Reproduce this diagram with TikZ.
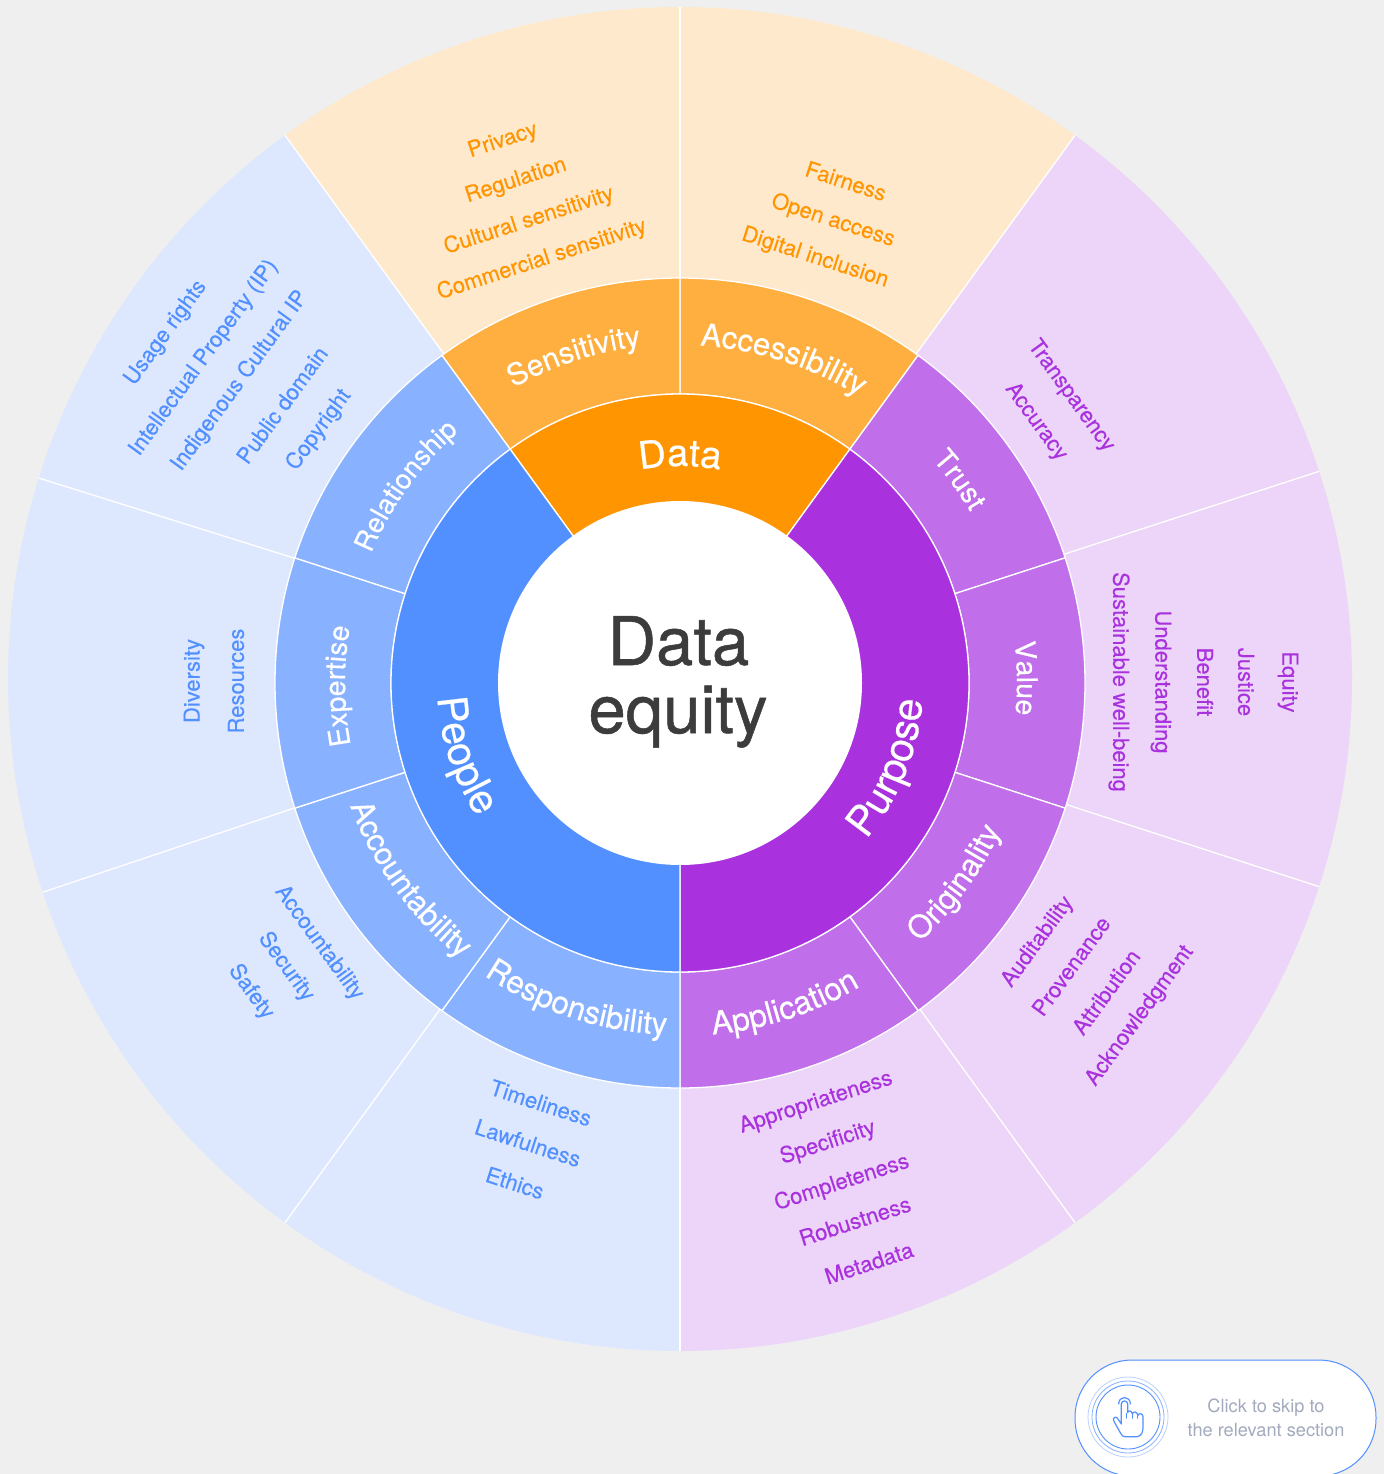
\documentclass[tikz,border=0pt]{standalone}
\usepackage{fontspec}
\setmainfont{TeX Gyre Heros}
\newfontfamily\semifont{TeX Gyre Heros}[FakeBold=0.35]
\newfontfamily\leaffont{TeX Gyre Heros}[FakeBold=0.25]
\newfontfamily\titlefont{TeX Gyre Heros}[FakeBold=0.8]
\usetikzlibrary{decorations.text}
\definecolor{bgc}{HTML}{EFEFEF}
\definecolor{oA}{HTML}{FF9500}\definecolor{oB}{HTML}{FFAF40}\definecolor{oC}{HTML}{FFE9CC}
\definecolor{bA}{HTML}{5290FF}\definecolor{bB}{HTML}{88B1FF}\definecolor{bC}{HTML}{DDE8FE}
\definecolor{pA}{HTML}{A932DE}\definecolor{pB}{HTML}{C06EEA}\definecolor{pC}{HTML}{ECD5F8}
\definecolor{ink}{HTML}{3C3C3C}\definecolor{hint}{HTML}{A3AABD}
\tikzset{
  sep/.style={draw=white,line width=1.3pt},
  leaf/.style={font=\leaffont\fontsize{22}{22}\selectfont,inner sep=0pt,anchor=center},
  oleaf/.style={leaf,text=oA},
  bleaf/.style={leaf,text=bA},
  pleaf/.style={leaf,text=pA},
  titletext/.style={text=ink,inner sep=0pt,anchor=base,font=\titlefont\fontsize{67}{67}\selectfont},
}
\newcommand\ringsector[5]{%
  \path[sep,fill=#5] (#3:#1) arc[start angle=#3,end angle=#4,radius=#1] -- (#4:#2) arc[start angle=#4,end angle=#3,radius=#2] -- cycle;}
\newcommand\outersector[3]{%
  \path[fill=#3] (#1:672) arc[start angle=#1,end angle=#2,radius=672] -- (0,0) -- cycle;}
% arc label: radius, start, end, size, text
\newcommand\arclabel[5]{%
  \path[decorate,decoration={text along path,text align=center,text color=white,
    text={|\semifont\fontsize{#4}{#4}\selectfont|#5}}] (#2:#1) arc[start angle=#2,end angle=#3,radius=#1];}
\begin{document}
\begin{tikzpicture}[x=1pt,y=1pt]
\useasboundingbox (0,-1474) rectangle (1384,0);
\fill[bgc] (0,-1474) rectangle (1384,0);
% outer ring
\begin{scope}[shift={(680,-679)}]
  \outersector{54}{90}{oC}\outersector{90}{126}{oC}
  \outersector{18}{54}{pC}\outersector{-18}{18}{pC}\outersector{-54}{-18}{pC}\outersector{-90}{-54}{pC}
  \outersector{234}{270}{bC}\outersector{198}{234}{bC}\outersector{162}{198}{bC}\outersector{126}{162}{bC}
  \foreach \a in {18,54,90,126,162.6,198.5,234,270,306,342}{\draw[sep] (\a:300) -- (\a:672);}
\end{scope}
% rings
\begin{scope}[shift={(680,-683)}]
  \ringsector{289}{405}{54}{90}{oB}\ringsector{289}{405}{90}{126}{oB}
  \ringsector{289}{405}{18}{54}{pB}\ringsector{289}{405}{-18}{18}{pB}\ringsector{289}{405}{-54}{-18}{pB}\ringsector{289}{405}{-90}{-54}{pB}
  \ringsector{289}{405}{234}{270}{bB}\ringsector{289}{405}{198}{234}{bB}\ringsector{289}{405}{162}{198}{bB}\ringsector{289}{405}{126}{162}{bB}
  \ringsector{170}{289}{54}{126}{oA}
  \ringsector{170}{289}{-90}{54}{pA}
  \ringsector{170}{289}{126}{270}{bA}
  \fill[white] (0,0) circle[radius=182];
  % arc labels
  \arclabel{217}{130}{50}{38}{Data}
  \arclabel{243}{-72}{28}{41}{Purpose}
  \arclabel{243}{148.5}{248.5}{41}{People}
  \arclabel{339}{148}{68}{30}{Sensitivity}
  \arclabel{338}{112.3}{32.3}{31}{Accessibility}
  \arclabel{337}{76}{-4}{28.5}{Trust}
  \arclabel{337}{40.8}{-39.2}{28.5}{Value}
  \arclabel{353}{-76}{4}{31.3}{Originality}
  \arclabel{353}{-112}{-32}{32}{Application}
  \arclabel{352}{212}{292}{31.5}{Responsibility}
  \arclabel{352}{176}{256}{31}{Accountability}
  \arclabel{335}{220.5}{140.5}{28.5}{Expertise}
  \arclabel{335}{184.3}{104.3}{27.5}{Relationship}
\end{scope}
% centre
\node[titletext] (dt) at (678.5,-665) {Data};
\node[titletext] (eq) at (678,-733) {equity};
% leaves: Data
\node[oleaf,rotate=18] (l1) at (503,-141) {Privacy};
\node[oleaf,rotate=18] (l2) at (516,-181) {Regulation};
\node[oleaf,rotate=18] (l3) at (529,-221) {Cultural sensitivity};
\node[oleaf,rotate=18] (l4) at (542,-260) {Commercial sensitivity};
\node[oleaf,rotate=-18] (l5) at (846,-181) {Fairness};
\node[oleaf,rotate=-18] (l6) at (833,-221) {Open access};
\node[oleaf,rotate=-18] (l7) at (815,-258) {Digital inclusion};
% leaves: Purpose
\node[pleaf,rotate=-54] (l8) at (1071,-396) {Transparency};
\node[pleaf,rotate=-54] (l9) at (1036,-422) {Accuracy};
\node[pleaf,rotate=-90] (l10) at (1288,-682) {Equity};
\node[pleaf,rotate=-90] (l11) at (1246,-682) {Justice};
\node[pleaf,rotate=-90] (l12) at (1205,-682) {Benefit};
\node[pleaf,rotate=-90] (l13) at (1161,-682) {Understanding};
\node[pleaf,rotate=-90] (l14) at (1119,-682) {Sustainable well-being};
\node[pleaf,rotate=54] (l15) at (1038,-942) {Auditability};
\node[pleaf,rotate=54] (l16) at (1071,-966) {Provenance};
\node[pleaf,rotate=54] (l17) at (1106,-992) {Attribution};
\node[pleaf,rotate=54] (l18) at (1140,-1016) {Acknowledgment};
\node[pleaf,rotate=18] (l19) at (816,-1103) {Appropriateness};
\node[pleaf,rotate=18] (l20) at (828,-1143) {Specificity};
\node[pleaf,rotate=18] (l21) at (842,-1183) {Completeness};
\node[pleaf,rotate=18] (l22) at (855,-1221) {Robustness};
\node[pleaf,rotate=18] (l23) at (869,-1263) {Metadata};
% leaves: People
\node[bleaf,rotate=-18] (l24) at (541,-1103) {Timeliness};
\node[bleaf,rotate=-18] (l25) at (528,-1143) {Lawfulness};
\node[bleaf,rotate=-18] (l26) at (515,-1183) {Ethics};
\node[bleaf,rotate=-54] (l27) at (319,-943) {Accountability};
\node[bleaf,rotate=-54] (l28) at (286,-967) {Security};
\node[bleaf,rotate=-54] (l29) at (251,-992) {Safety};
\node[bleaf,rotate=90] (l30) at (236,-681) {Resources};
\node[bleaf,rotate=90] (l31) at (194,-681) {Diversity};
\node[bleaf,rotate=54] (l32) at (166,-333) {Usage rights};
\node[bleaf,rotate=54] (l33) at (204,-358) {Intellectual Property (IP)};
\node[bleaf,rotate=54] (l34) at (240,-381) {Indigenous Cultural IP};
\node[bleaf,rotate=54] (l35) at (282,-405) {Public domain};
\node[bleaf,rotate=54] (l36) at (319,-430) {Copyright};
% button
\begin{scope}
  \clip (0,-1474) rectangle (1384,0);
  \draw[bA,fill=white,line width=1pt,rounded corners=57pt] (1075,-1476) rectangle (1376,-1360);
\end{scope}
\draw[bA,line width=.9pt] (1128,-1417) circle[radius=32];
\draw[bB,line width=.8pt] (1128,-1417) circle[radius=36];
\draw[bC!60!bB,line width=.8pt] (1128,-1417) circle[radius=40];
\begin{scope}[shift={(1060,-1350)},x=.3333pt,y=-.3333pt]
  \draw[bA,line width=1.2pt,line join=round,line cap=round]
    (195,260) -- (232,260) .. controls (245,258) and (249,245) .. (249,232) -- (249,200)
    .. controls (249,190) and (236,188) .. (234,196) .. controls (232,184) and (219,183) .. (217,192)
    .. controls (215,180) and (204,180) .. (203,188) -- (203,162)
    .. controls (203,150) and (184,150) .. (184,162) -- (184,222) -- (172,204)
    .. controls (166,198) and (156,204) .. (162,214) -- (182,250) .. controls (185,257) and (190,260) .. (195,260);
  \draw[bA,line width=1.2pt,line cap=round] (176,162) .. controls (176,136) and (211,136) .. (211,162);
  \draw[bA,line width=.8pt,line cap=round] (200,205) -- (200,190) (217,205) -- (217,192) (233,205) -- (233,197);
\end{scope}
\node[text=hint,inner sep=0pt,font=\fontsize{18.2}{24}\selectfont,align=center] (hintlabel) at (1266,-1418) {Click to skip to\\the relevant section};
\end{tikzpicture}
\end{document}
